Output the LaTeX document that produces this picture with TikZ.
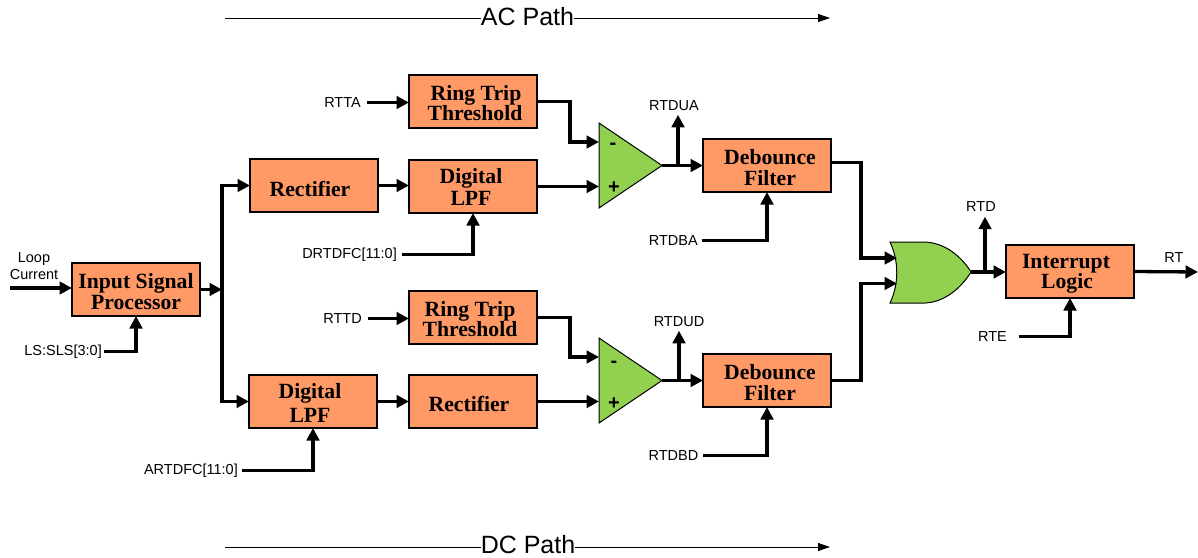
\documentclass[tikz,border=0pt]{standalone}
\usepackage{fontspec}
\setmainfont{Liberation Serif}
\setsansfont{Liberation Sans}
\usetikzlibrary{arrows.meta}
\usetikzlibrary{calc, positioning}
\usetikzlibrary{shapes.geometric}

\definecolor{blockfill}{HTML}{FF9966}
\definecolor{gatefill}{HTML}{92D050}

% moves one line of a block by x, y without changing the block
\newcommand{\nudge}[3]{\hspace*{#1pt}\raisebox{-#2pt}[\height][\depth]{#3}\hspace*{-#1pt}}

\tikzset{
  block/.style={draw, line width=1.3pt, fill=blockfill, minimum width=128pt, minimum height=53pt,
    inner sep=0pt, outer sep=0pt, align=center,
    font=\rmfamily\bfseries\fontsize{21.7}{21}\selectfont},
  amp/.style={draw, line width=1pt, fill=gatefill, isosceles triangle, isosceles triangle stretches=true,
    minimum width=85pt, minimum height=63pt, inner sep=0pt, outer sep=0pt},
  sig/.style={font=\sffamily\fontsize{14.5}{17}\selectfont, inner sep=0pt, align=center},
  sign/.style={sig, font=\sffamily\bfseries\fontsize{20}{20}\selectfont},
  path title/.style={font=\sffamily\fontsize{25}{25}\selectfont, fill=white, inner sep=0pt},
  wire/.style={line width=3.3pt},
  arrow wire/.style={wire, -{Triangle[length=12.5pt,width=12.5pt]}},
  span line/.style={line width=0.8pt, -{Triangle[length=12pt,width=8pt]}}
}

\begin{document}
\begin{tikzpicture}[x=1pt, y=-1pt]

  \useasboundingbox (0,0) rectangle (1198,557);

  % blocks
  \node (input)  [block] at (136,289.5) {\nudge{0}{2}{Input Signal}\\\nudge{0}{2}{Processor}};
  \node (recta)  [block] at (314,185.5) {\nudge{-4}{3}{Rectifier}};
  \node (lpfa)   [block] at (473,186.5) {\nudge{-2}{0}{Digital}\\\nudge{-2}{1}{LPF}};
  \node (ringa)  [block] at (473,101.5) {\nudge{3}{2}{Ring Trip}\\\nudge{2}{1}{Threshold}};
  \node (ringd)  [block] at (473,317.5) {\nudge{-3}{2}{Ring Trip}\\\nudge{-3}{1}{Threshold}};
  \node (rectd)  [block] at (473,401.5) {\nudge{-4}{2}{Rectifier}};
  \node (lpfd)   [block] at (313,401.5) {\nudge{-3}{0}{Digital}\\\nudge{-3}{3}{LPF}};
  \node (deba)   [block] at (767,165.5) {\nudge{3}{2}{Debounce}\\\nudge{3}{2}{Filter}};
  \node (debd)   [block] at (767,380.5) {\nudge{3}{2}{Debounce}\\\nudge{3}{2}{Filter}};
  \node (irq)    [block] at (1070,271.5) {\nudge{-4}{2.5}{Interrupt}\\\nudge{-3}{1.5}{Logic}};

  % comparators
  \node (ampa) [amp, anchor=lower side] at (599,165.5) {};
  \node (ampd) [amp, anchor=lower side] at (599,380.5) {};
  \node (ampa-minus) [sign] at (613,146) {-};
  \node (ampa-plus)  [sign] at (614,188) {+};
  \node (ampd-minus) [sign] at (614,364) {-};
  \node (ampd-plus)  [sign] at (614,404) {+};
  \coordinate (ampa-neg) at (599,142);
  \coordinate (ampa-pos) at (599,186.5);
  \coordinate (ampd-neg) at (599,357);
  \coordinate (ampd-pos) at (599,401.5);

  % or gate
  \draw[line width=1pt, fill=gatefill] (890,242) to (925,242)
  .. controls (945,243) and (961,256) .. (971,272)
  .. controls (961,288) and (945,302) .. (925,303)
  to (890,303)
  .. controls (899,284) and (899,261) .. (890,242) -- cycle;
  \coordinate (or-top) at (897,258);
  \coordinate (or-bot) at (897,283.5);
  \coordinate (or-out) at (971,272);

  % signal names
  \node (loop)   [sig] at (34,266) {Loop\\Current};
  \node (ls)     [sig, anchor=east] at (102,351.5) {LS:SLS[3:0]};
  \node (rtta)   [sig, anchor=east] at (361,102.5) {RTTA};
  \node (drtdfc) [sig, anchor=east] at (397,254.5) {DRTDFC[11:0]};
  \node (rttd)   [sig, anchor=east] at (362,318.5) {RTTD};
  \node (artdfc) [sig, anchor=east] at (238,470.5) {ARTDFC[11:0]};
  \node (rtdua)  [sig] at (674,105.5) {RTDUA};
  \node (rtdud)  [sig] at (679,321.5) {RTDUD};
  \node (rtdba)  [sig, anchor=east] at (698,240.5) {RTDBA};
  \node (rtdbd)  [sig, anchor=east] at (698.5,455.5) {RTDBD};
  \node (rtd)    [sig] at (981,206.5) {RTD};
  \node (rte)    [sig, anchor=east] at (1007,336.5) {RTE};
  \node (rt)     [sig] at (1174,257.5) {RT};

  % input side
  \coordinate (loop-in) at (10,288);
  \coordinate (bus) at (222,289.5);
  \draw[arrow wire] (loop-in) to (loop-in -| input.west);
  \draw[arrow wire] (ls.east) ++(2,0) -| (input.south);
  \draw[arrow wire] (input.east) to (bus);
  \draw[arrow wire] (bus) |- (recta.west);
  \draw[arrow wire] (bus) |- (lpfd.west);

  % ac path
  \draw[arrow wire] (recta.east) to (recta.east -| lpfa.west);
  \draw[arrow wire] (rtta.east) ++(6,0) to (rtta.east -| ringa.west);
  \draw[arrow wire] (ringa.east) -- ++(33,0) |- (ampa-neg);
  \draw[arrow wire] (lpfa.east) to (ampa-pos);
  \draw[arrow wire] (drtdfc.east) ++(5,0) -| (lpfa.south);
  \draw[arrow wire] (ampa.apex) to (ampa.apex -| deba.west);
  \draw[arrow wire] (ampa.apex) ++(16,0) to ($(rtdua.south)+(4,4)$);
  \draw[arrow wire] (rtdba.east) ++(4,0) -| (deba.south);
  \draw[arrow wire] (deba.east) ++(0,-3) -- ++(30,0) |- (or-top);

  % dc path
  \draw[arrow wire] (lpfd.east) to (rectd.west);
  \draw[arrow wire] (rttd.east) ++(6,0) to (rttd.east -| ringd.west);
  \draw[arrow wire] (ringd.east) -- ++(33,0) |- (ampd-neg);
  \draw[arrow wire] (rectd.east) to (ampd-pos);
  \draw[arrow wire] (artdfc.east) ++(4,0) -| (lpfd.south);
  \draw[arrow wire] (ampd.apex) to (ampd.apex -| debd.west);
  \draw[arrow wire] (ampd.apex) ++(17,0) to ($(rtdud.south)+(0,4)$);
  \draw[arrow wire] (rtdbd.east) ++(4,0) -| (debd.south);
  \draw[arrow wire] (debd.east) -- ++(30,0) |- (or-bot);

  % output side
  \draw[arrow wire] (or-out) to (or-out -| irq.west);
  \draw[arrow wire] (or-out) ++(14,0) to ($(rtd.south)+(4,5)$);
  \draw[arrow wire] (rte.east) ++(12,0) -| (irq.south);
  \coordinate (rt-end) at (1198,272);
  \draw[arrow wire] (irq.east) to (rt-end);

  % path titles
  \coordinate (ac-start) at (225,18);
  \coordinate (ac-end) at (830,18);
  \coordinate (dc-start) at (225,547);
  \coordinate (dc-end) at (830,547);
  \draw[span line] (ac-start) to (ac-end);
  \draw[span line] (dc-start) to (dc-end);
  \node (ac) [path title] at (527.5,17) {AC Path};
  \node (dc) [path title] at (528,545) {DC Path};

\end{tikzpicture}
\end{document}
